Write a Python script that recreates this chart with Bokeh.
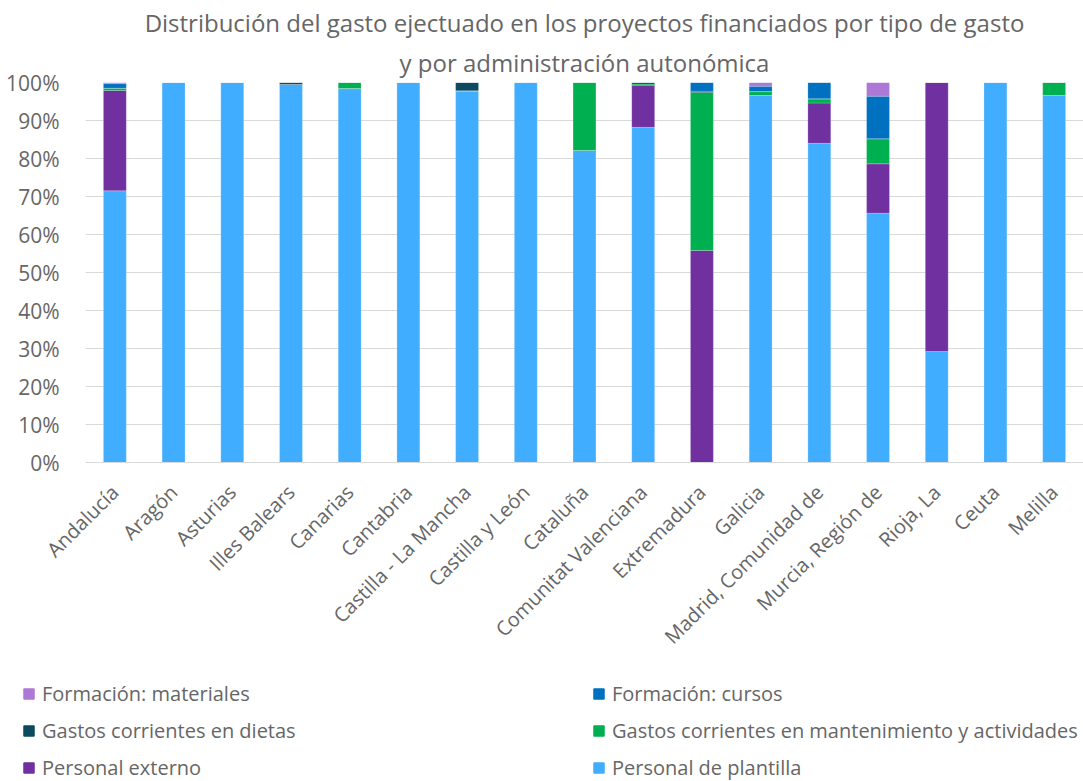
import math
from bokeh.plotting import figure
from bokeh.layouts import column
from bokeh.models import FactorRange, Legend, LegendItem, NumeralTickFormatter, ColumnDataSource, Title
from bokeh.embed import file_html
from bokeh.resources import INLINE

categories = ["Andalucía", "Aragón", "Asturias", "Illes Balears", "Canarias", "Cantabria",
              "Castilla - La Mancha", "Castilla y León", "Cataluña", "Comunitat Valenciana",
              "Extremadura", "Galicia", "Madrid, Comunidad de", "Murcia, Región de",
              "Rioja, La", "Ceuta", "Melilla"]

plantilla     = [71.5, 100, 100, 99.5, 98.4, 100, 97.8, 100, 82.1, 88.2, 0.0, 96.6, 84.0, 65.6, 29.2, 100, 96.6]
externo       = [26.4, 0, 0, 0, 0, 0, 0, 0, 0, 11.1, 55.8, 0, 10.6, 13.0, 70.8, 0, 0]
mantenimiento = [0.6, 0, 0, 0, 1.6, 0, 0, 0, 17.9, 0.3, 41.6, 1.0, 1.1, 6.6, 0, 0, 3.4]
dietas        = [0.0, 0, 0, 0.5, 0, 0, 2.2, 0, 0, 0.4, 0.3, 0, 0, 0, 0, 0, 0]
cursos        = [1.2, 0, 0, 0, 0, 0, 0, 0, 0, 0, 2.3, 1.4, 4.3, 11.2, 0, 0, 0]
materiales    = [0.3, 0, 0, 0, 0, 0, 0, 0, 0, 0, 0, 1.0, 0, 3.6, 0, 0, 0]

series = ["Personal de plantilla", "Personal externo", "Gastos corrientes en mantenimiento y actividades",
          "Gastos corrientes en dietas", "Formación: cursos", "Formación: materiales"]
keys = ["plantilla", "externo", "mantenimiento", "dietas", "cursos", "materiales"]
colors = ["#41adff", "#7030a0", "#00b050", "#0b4a60", "#0070c0", "#ae78d6"]

title_lines = ["Distribución del gasto ejectuado en los proyectos financiados por tipo de gasto",
               "y por administración autonómica"]
title_standoffs = [2, 8]

data = {"cat": categories}
for k, vals in zip(keys, [plantilla, externo, mantenimiento, dietas, cursos, materiales]):
    data[k] = [v / 100.0 for v in vals]
source = ColumnDataSource(data)

FONT = "Open Sans"
GREY = "#666666"

p = figure(x_range=FactorRange(*categories, range_padding=0), y_range=(0, 1),
           frame_width=998, frame_height=380, output_backend="svg", toolbar_location=None,
           min_border_left=85, min_border_right=0, min_border_top=82, min_border_bottom=217)

for txt, so in reversed(list(zip(title_lines, title_standoffs))):
    t = Title(text=txt, align="center", text_font=FONT, text_font_style="normal",
              text_font_size="24px", text_color=GREY, standoff=so)
    p.add_layout(t, "above")

renderers = p.vbar_stack(keys, x="cat", width=0.39, color=colors, source=source,
                         line_color="white", line_alpha=0.4, line_width=0.5)

p.yaxis.formatter = NumeralTickFormatter(format="0%")
p.yaxis.ticker = [i / 10 for i in range(11)]
p.yaxis.axis_line_color = None
p.yaxis.major_tick_line_color = None
p.yaxis.minor_tick_line_color = None
p.yaxis.major_label_text_font = FONT
p.yaxis.major_label_text_font_size = "21px"
p.yaxis.major_label_text_color = GREY
p.yaxis.major_label_standoff = 20

p.xaxis.axis_line_color = "#d9d9d9"
p.xaxis.major_tick_line_color = None
p.xaxis.major_label_orientation = math.pi / 4
p.xaxis.major_label_text_font = FONT
p.xaxis.major_label_text_font_size = "20px"
p.xaxis.major_label_text_color = GREY
p.xaxis.major_label_standoff = 20

p.xgrid.grid_line_color = None
p.ygrid.grid_line_color = "#d9d9d9"
p.ygrid.grid_line_width = 1
p.outline_line_color = None

# Legend in its own strip below the chart
lp = figure(width=1083, height=102, x_range=(0, 1), y_range=(0, 1),
            output_backend="svg", toolbar_location=None,
            x_axis_location=None, y_axis_location=None,
            min_border=0, outline_line_color=None)
if "frame_align" in lp.properties():
    lp.frame_align = False
    p.frame_align = False
lp.grid.visible = False
leg_renderers = [lp.vbar(x=[-10], top=[0], width=0.1, color=c) for c in colors]

order = [5, 4, 3, 2, 1, 0]
items = [LegendItem(label=series[i], renderers=[leg_renderers[i]]) for i in order]
legend = Legend(items=items, location=(22, 0), ncols=2, orientation="horizontal",
                label_text_font=FONT, label_text_font_size="20px", label_text_color=GREY,
                glyph_width=13, glyph_height=13, label_standoff=7, label_width=540,
                label_height=20, spacing=10, padding=0, margin=0,
                border_line_color=None, background_fill_alpha=0)
lp.add_layout(legend, "center")

open("out.html", "w").write(file_html(column(p, lp, spacing=0), INLINE))
